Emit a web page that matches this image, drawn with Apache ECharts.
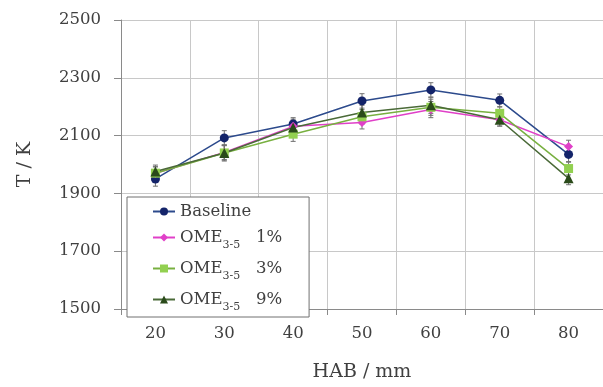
<!DOCTYPE html>
<html>
<head>
<meta charset="utf-8">
<script src="https://cdn.jsdelivr.net/npm/echarts@6/dist/echarts.min.js"></script>
<style>
  html, body { margin: 0; padding: 0; background: #fff; }
  #chart { width: 603px; height: 387px; }
</style>
</head>
<body>
<div id="chart"></div>
<script>
// Flame temperature vs. height above burner
const hab = ['20', '30', '40', '50', '60', '70', '80'];
const yTicks = [1500, 1700, 1900, 2100, 2300, 2500];

const baseline = [1950, 2092, 2140, 2220, 2258, 2222, 2035];
const ome1 = [1970, 2042, 2132, 2145, 2190, 2155, 2062];
const ome3 = [1970, 2040, 2105, 2165, 2198, 2177, 1986];
const ome9 = [1976, 2040, 2128, 2180, 2205, 2155, 1952];

const errBaseline = [25, 25, 22, 25, 25, 22, 25];
const errOme1 = [22, 25, 25, 22, 28, 22, 22];
const errOme3 = [22, 25, 25, 25, 28, 22, 22];
const errOme9 = [22, 28, 25, 25, 28, 22, 22];

const seriesDefs = [
  { name: 'Baseline', data: baseline, err: errBaseline, line: '#2c4a8c', mark: '#14246a', symbol: 'circle', size: 9 },
  { name: 'OME1', data: ome1, err: errOme1, line: '#e040c8', mark: '#e040c8', symbol: 'diamond', size: 9 },
  { name: 'OME3', data: ome3, err: errOme3, line: '#78b040', mark: '#92d050', symbol: 'rect', size: 9 },
  { name: 'OME9', data: ome9, err: errOme9, line: '#4a6a38', mark: '#2a4a1a', symbol: 'triangle', size: 10 }
];

const legendText = {
  Baseline: '{b|Baseline}',
  OME1: '{b|OME}{s|3-5}{b|   1%}',
  OME3: '{b|OME}{s|3-5}{b|   3%}',
  OME9: '{b|OME}{s|3-5}{b|   9%}'
};

const font = 'DejaVu Serif';
const textColor = '#404040';

function errorBars(def) {
  return {
    type: 'custom',
    name: def.name + '-err',
    z: 1,
    silent: true,
    data: def.data.map((v, i) => [i, v - def.err[i], v + def.err[i]]),
    renderItem: function (params, api) {
      const lo = api.coord([api.value(0), api.value(1)]);
      const hi = api.coord([api.value(0), api.value(2)]);
      const cap = 2.5;
      const st = { stroke: '#707070', lineWidth: 1 };
      return {
        type: 'group',
        children: [
          { type: 'line', shape: { x1: lo[0], y1: lo[1], x2: hi[0], y2: hi[1] }, style: st },
          { type: 'line', shape: { x1: lo[0] - cap, y1: lo[1], x2: lo[0] + cap, y2: lo[1] }, style: st },
          { type: 'line', shape: { x1: hi[0] - cap, y1: hi[1], x2: hi[0] + cap, y2: hi[1] }, style: st }
        ]
      };
    }
  };
}

const series = [];
seriesDefs.forEach(d => series.push(errorBars(d)));
seriesDefs.forEach(d => series.push({
  type: 'line',
  name: d.name,
  data: d.data,
  z: 3,
  symbol: d.symbol,
  symbolSize: d.size,
  showAllSymbol: true,
  lineStyle: { color: d.line, width: 1.5 },
  itemStyle: { color: d.mark },
  emphasis: { disabled: true },
  animation: false
}));

const chart = echarts.init(document.getElementById('chart'), null, { renderer: 'canvas' });
chart.setOption({
  animation: false,
  backgroundColor: '#ffffff',
  grid: { left: 121, top: 20, right: -12, bottom: 69, containLabel: false },
  xAxis: {
    type: 'category',
    data: hab,
    boundaryGap: true,
    name: 'HAB / mm',
    nameLocation: 'middle',
    nameGap: 54,
    nameTextStyle: { fontFamily: font, fontSize: 19, color: textColor },
    axisLine: { lineStyle: { color: '#8a8a8a', width: 1 } },
    axisTick: { show: true, length: 6, lineStyle: { color: '#8a8a8a' } },
    axisLabel: { fontFamily: font, fontSize: 16.5, color: textColor, margin: 16 },
    splitLine: { show: true, lineStyle: { color: '#c8c8c8', width: 1 } }
  },
  yAxis: {
    type: 'value',
    min: yTicks[0],
    max: yTicks[yTicks.length - 1],
    interval: 200,
    name: 'T / K',
    nameLocation: 'middle',
    nameGap: 86,
    nameTextStyle: { fontFamily: font, fontSize: 19, color: textColor },
    axisLine: { show: true, lineStyle: { color: '#8a8a8a', width: 1 } },
    axisTick: { show: true, length: 7, lineStyle: { color: '#8a8a8a' } },
    axisLabel: { fontFamily: font, fontSize: 16.5, color: textColor, margin: 20, formatter: v => String(v) },
    splitLine: { show: true, lineStyle: { color: '#c8c8c8', width: 1 } }
  },
  legend: {
    data: seriesDefs.map(d => d.name),
    orient: 'vertical',
    left: 127,
    top: 197,
    padding: [6, 27, 4, 25],
    itemGap: 9,
    itemWidth: 22,
    itemHeight: 10,
    backgroundColor: '#ffffff',
    borderColor: '#707070',
    borderWidth: 1,
    selectedMode: false,
    formatter: name => legendText[name],
    textStyle: {
      color: textColor,
      rich: {
        b: { fontFamily: font, fontSize: 16.5, color: textColor, verticalAlign: 'bottom', lineHeight: 17 },
        s: { fontFamily: font, fontSize: 11, color: textColor, verticalAlign: 'bottom', lineHeight: 11, padding: [0, 0, -5, 0] }
      }
    }
  },
  series: series
});
</script>
</body>
</html>
